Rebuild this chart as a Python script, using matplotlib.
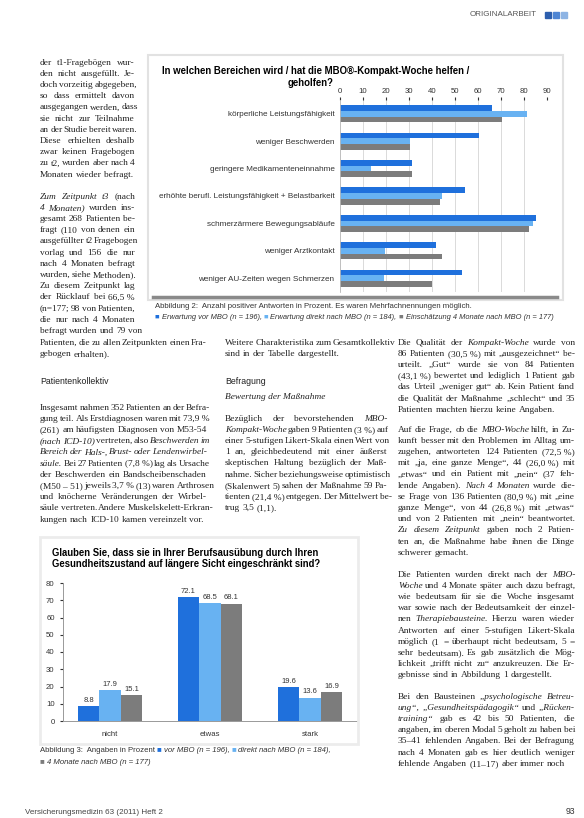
import matplotlib
matplotlib.use('Agg')
import matplotlib.pyplot as plt
import numpy as np

W, H = 584, 818

# Abbildung 2: positive Antworten in Prozent
bereiche = ['körperliche Leistungsfähigkeit', 'weniger Beschwerden',
            'geringere Medikamenteneinnahme',
            'erhöhte berufl. Leistungsfähigkeit + Belastbarkeit',
            'schmerzärmere Bewegungsabläufe', 'weniger Arztkontakt',
            'weniger AU-Zeiten wegen Schmerzen']
erwartung_vor = [66.2, 60.6, 31.2, 54.3, 85.1, 41.6, 53.2]
direkt_nach = [81.2, 30.4, 13.5, 44.2, 84.0, 19.6, 19.3]
nach_4_monaten = [70.3, 30.4, 31.2, 43.5, 82.3, 44.5, 39.9]

# Abbildung 3: Einschränkung in der Berufsausübung
antworten = ['nicht', 'etwas', 'stark']
vor_mbo = [8.8, 72.1, 19.6]
direkt_mbo = [17.9, 68.5, 13.6]
monate_mbo = [15.1, 68.1, 16.9]

DUNKEL = '#1f70dc'
HELL = '#68b2f2'
GRAU = '#7c7c7c'
TEXT = '#222222'
SERIF = 'Liberation Serif'
SANS = 'Liberation Sans'
GROESSE = 6.75


def fx(x):
    return x / W


def fy(y):
    return 1 - y / H


fig = plt.figure(figsize=(W / 100, H / 100), dpi=100)
r = fig.canvas.get_renderer()


def setzen(x, y, breite, zeilen, size=GROESSE, lh=11.2, fam=SERIF):
    # Blocksatz: Woerter einzeln setzen, letzte Zeile linksbuendig
    for i, zeile in enumerate(zeilen):
        yy = y + i * lh + 2.6
        objs = []
        for w in zeile.split(' '):
            style = 'normal'
            if w.startswith('_'):
                w, style = w[1:], 'italic'
            t = fig.text(0, fy(yy), w.replace('~', ' '), fontsize=size,
                         family=fam, style=style, va='baseline', color=TEXT)
            objs.append(t)
        b = [t.get_window_extent(r).width for t in objs]
        gap = size * 100 / 72 * 0.25
        if i < len(zeilen) - 1 and len(objs) > 1:
            gap = max((breite - sum(b)) / (len(objs) - 1), 1.2)
        xx = x
        for t, bw in zip(objs, b):
            t.set_x(fx(xx))
            xx += bw + gap


def reihe(x, y, teile, size=5.3):
    # farbige Legendenquadrate und Text hintereinander
    xx = x
    for txt, col, style in teile:
        t = fig.text(fx(xx), fy(y), txt, fontsize=size, family=SANS,
                     style=style, color=col, va='center')
        xx += t.get_window_extent(r).width


# Kopfzeile
fig.text(fx(470), fy(15), 'ORIGINALARBEIT', fontsize=5.8, family=SANS,
         color='#555555', va='center')
for i, c in enumerate(['#2d5fae', '#4f86d4', '#8db4e4']):
    fig.patches.append(plt.Rectangle((fx(545 + i * 8), fy(18)), fx(6), 6 / H,
                                     transform=fig.transFigure, color=c))

# ---------------- Abbildung 2 ----------------
fig.patches.append(plt.Rectangle((fx(148), fy(300)), fx(415), 245 / H,
                                 transform=fig.transFigure, fill=False,
                                 ec='#e2e2e2', lw=1.5))
fig.add_artist(plt.Line2D([fx(153), fx(557)], [fy(297), fy(297)],
                          color='#8a8a8a', lw=2.5))
fig.text(fx(316), fy(71), 'In welchen Bereichen wird / hat die MBO®-Kompakt-Woche helfen /',
         fontsize=6.95, family=SANS, weight='bold', ha='center', va='center')
fig.text(fx(311), fy(83.5), 'geholfen?', fontsize=6.95, family=SANS,
         weight='bold', ha='center', va='center')

ax1 = fig.add_axes([fx(340), fy(292), 207 / W, 192 / H])
y = np.arange(len(bereiche))
ax1.barh(y - 0.21, erwartung_vor, height=0.21, color=DUNKEL)
ax1.barh(y, direkt_nach, height=0.21, color=HELL)
ax1.barh(y + 0.21, nach_4_monaten, height=0.21, color=GRAU)
ax1.set_xlim(0, 90)
ax1.set_ylim(6.5, -0.5)
ax1.xaxis.tick_top()
ax1.set_xticks(range(0, 91, 10))
ax1.set_yticks(y)
ax1.set_yticklabels(bereiche, fontsize=5.85, family=SANS, color='#333333')
ax1.tick_params(axis='x', labelsize=5.6, colors='#333333', length=2, pad=1.5)
ax1.tick_params(axis='y', length=0, pad=4)
ax1.grid(axis='x', color='#d4d4d4', lw=0.6)
ax1.set_axisbelow(True)
for s in ['top', 'right', 'bottom']:
    ax1.spines[s].set_visible(False)
ax1.spines['left'].set_color('#bbbbbb')
ax1.spines['left'].set_linewidth(0.6)
for lab in ax1.get_xticklabels():
    lab.set_family(SANS)

fig.text(fx(155), fy(307), 'Abbildung 2:  Anzahl positiver Antworten in Prozent. Es waren Mehrfachnennungen möglich.',
         fontsize=5.55, family=SANS, color='#333333', va='center')
reihe(155, 317, [('■ ', DUNKEL, 'normal'), ('Erwartung vor MBO (n = 196), ', '#333333', 'italic'),
                 ('■ ', HELL, 'normal'), ('Erwartung direkt nach MBO (n = 184), ', '#333333', 'italic'),
                 ('■ ', GRAU, 'normal'), ('Einschätzung 4 Monate nach MBO (n = 177)', '#333333', 'italic')],
      size=5.4)

# ---------------- Abbildung 3 ----------------
fig.patches.append(plt.Rectangle((fx(40), fy(744)), fx(318), 207 / H,
                                 transform=fig.transFigure, fill=False,
                                 ec='#ececec', lw=2))
fig.text(fx(52), fy(553), 'Glauben Sie, dass sie in Ihrer Berufsausübung durch Ihren',
         fontsize=6.85, family=SANS, weight='bold', va='center')
fig.text(fx(52), fy(564), 'Gesundheitszustand auf längere Sicht eingeschränkt sind?',
         fontsize=6.85, family=SANS, weight='bold', va='center')

ax2 = fig.add_axes([fx(63), fy(721), 294 / W, 138 / H])
x = np.arange(len(antworten))
bw = 0.215
for off, werte, col in [(-bw, vor_mbo, DUNKEL), (0, direkt_mbo, HELL), (bw, monate_mbo, GRAU)]:
    cont = ax2.bar(x + off, werte, width=bw, color=col)
    ax2.bar_label(cont, fmt='%.1f', fontsize=5.5, padding=1.5, color='#333333', family=SANS)
ax2.set_xlim(-0.47, 2.47)
ax2.set_ylim(0, 80)
ax2.set_yticks(range(0, 81, 10))
ax2.set_xticks(x)
ax2.set_xticklabels(antworten, fontsize=5.6, family=SANS, color='#333333')
ax2.tick_params(axis='y', labelsize=5.6, colors='#333333', length=2, pad=4)
ax2.tick_params(axis='x', length=0, pad=7)
for lab in ax2.get_yticklabels():
    lab.set_family(SANS)
for s in ['top', 'right']:
    ax2.spines[s].set_visible(False)
for s in ['left', 'bottom']:
    ax2.spines[s].set_color('#999999')
    ax2.spines[s].set_linewidth(0.7)

reihe(40, 751, [('Abbildung 3:  Angaben in Prozent ', '#333333', 'normal'),
                ('■ ', DUNKEL, 'normal'), ('vor MBO (n = 196), ', '#333333', 'italic'),
                ('■ ', HELL, 'normal'), ('direkt nach MBO (n = 184),', '#333333', 'italic')],
      size=5.6)
reihe(40, 762, [('■ ', GRAU, 'normal'), ('4 Monate nach MBO (n = 177)', '#333333', 'italic')],
      size=5.6)

# ---------------- Fliesstext ----------------
setzen(40, 62, 95, [
    'der t1-Fragebögen wur-', 'den nicht ausgefüllt. Je-', 'doch vorzeitig abgegeben,',
    'so dass ermittelt davon', 'ausgegangen werden, dass', 'sie nicht zur Teilnahme',
    'an der Studie bereit waren.', 'Diese erhielten deshalb', 'zwar keinen Fragebogen',
    'zu t2, wurden aber nach 4', 'Monaten wieder befragt.'])
setzen(40, 196, 95, [
    '_Zum _Zeitpunkt _t3 (nach', '_4 _Monaten) wurden ins-', 'gesamt 268 Patienten be-',
    'fragt (110 von denen ein', 'ausgefüllter t2 Fragebogen', 'vorlag und 156 die nur',
    'nach 4 Monaten befragt', 'wurden, siehe Methoden).', 'Zu diesem Zeitpunkt lag',
    'der Rücklauf bei 66,5~%', '(n=177; 98 von Patienten,', 'die nur nach 4 Monaten',
    'befragt wurden und 79 von'])
setzen(40, 342.5, 167, ['Patienten, die zu allen Zeitpunkten einen Fra-', 'gebogen erhalten).'])

fig.text(fx(40), fy(382), 'Patientenkollektiv', fontsize=6.3, family=SANS, color=TEXT, va='center')
setzen(40, 407, 167, [
    'Insgesamt nahmen 352 Patienten an der Befra-',
    'gung teil. Als Erstdiagnosen waren mit 73,9~%',
    '(261) am häufigsten Diagnosen von M53-54',
    '_(nach _ICD-10) vertreten, also _Beschwerden _im',
    '_Bereich _der _Hals-, _Brust- _oder _Lendenwirbel-',
    '_säule. Bei 27 Patienten (7,8~%) lag als Ursache',
    'der Beschwerden ein Bandscheibenschaden',
    '(M50~–~51) jeweils 3,7~% (13) waren Arthrosen',
    'und knöcherne Veränderungen der Wirbel-',
    'säule vertreten. Andere Muskelskelett-Erkran-',
    'kungen nach ICD-10 kamen vereinzelt vor.'])

setzen(225, 342.5, 162, ['Weitere Charakteristika zum Gesamtkollektiv',
                         'sind in der Tabelle dargestellt.'])
fig.text(fx(225), fy(382), 'Befragung', fontsize=6.3, family=SANS, color=TEXT, va='center')
fig.text(fx(225), fy(397), 'Bewertung der Maßnahme', fontsize=GROESSE, family=SERIF,
         style='italic', color=TEXT, va='center')
setzen(225, 418, 162, [
    'Bezüglich der bevorstehenden _MBO-',
    '_Kompakt-Woche gaben 9 Patienten (3~%) auf',
    'einer 5-stufigen Likert-Skala einen Wert von',
    '1 an, gleichbedeutend mit einer äußerst',
    'skeptischen Haltung bezüglich der Maß-',
    'nahme. Sicher beziehungsweise optimistisch',
    '(Skalenwert 5) sahen der Maßnahme 59 Pa-',
    'tienten (21,4~%) entgegen. Der Mittelwert be-',
    'trug 3,5 (1,1).'])

setzen(398, 342, 177, [
    'Die Qualität der _Kompakt-Woche wurde von',
    '86 Patienten (30,5~%) mit „ausgezeichnet“ be-',
    'urteilt. „Gut“ wurde sie von 84 Patienten',
    '(43,1~%) bewertet und lediglich 1 Patient gab',
    'das Urteil „weniger gut“ ab. Kein Patient fand',
    'die Qualität der Maßnahme „schlecht“ und 35',
    'Patienten machten hierzu keine Angaben.'])
setzen(398, 429, 177, [
    'Auf die Frage, ob die _MBO-Woche hilft, in Zu-',
    'kunft besser mit den Problemen im Alltag um-',
    'zugehen, antworteten 124 Patienten (72,5~%)',
    'mit „ja, eine ganze Menge“, 44 (26,0~%) mit',
    '„etwas“ und ein Patient mit „nein“ (37 feh-',
    'lende Angaben). _Nach _4 _Monaten wurde die-',
    'se Frage von 136 Patienten (80,9~%) mit „eine',
    'ganze Menge“, von 44 (26,8~%) mit „etwas“',
    'und von 2 Patienten mit „nein“ beantwortet.',
    '_Zu _diesem _Zeitpunkt gaben noch 2 Patien-',
    'ten an, die Maßnahme habe ihnen die Dinge',
    'schwerer gemacht.'])
setzen(398, 574, 177, [
    'Die Patienten wurden direkt nach der _MBO-',
    '_Woche und 4 Monate später auch dazu befragt,',
    'wie bedeutsam für sie die Woche insgesamt',
    'war sowie nach der Bedeutsamkeit der einzel-',
    'nen _Therapiebausteine. Hierzu waren wieder',
    'Antworten auf einer 5-stufigen Likert-Skala',
    'möglich (1 = überhaupt nicht bedeutsam, 5 =',
    'sehr bedeutsam). Es gab zusätzlich die Mög-',
    'lichkeit „trifft nicht zu“ anzukreuzen. Die Er-',
    'gebnisse sind in Abbildung 1 dargestellt.'])
setzen(398, 696, 177, [
    'Bei den Bausteinen _„psychologische _Betreu-',
    '_ung“, _„Gesundheitspädagogik“ und _„Rücken-',
    '_training“ gab es 42 bis 50 Patienten, die',
    'angaben, im oberen Modal 5 geholt zu haben bei',
    '35–41 fehlenden Angaben. Bei der Befragung',
    'nach 4 Monaten gab es hier deutlich weniger',
    'fehlende Angaben (11–17) aber immer noch'])

# Fusszeile
fig.text(fx(25), fy(812), 'Versicherungsmedizin 63 (2011) Heft 2', fontsize=5.8,
         family=SANS, color='#444444', va='center')
fig.text(fx(566), fy(812), '93', fontsize=6.2, family=SANS, color='#333333', va='center')

fig.savefig('out.png', dpi=100)
